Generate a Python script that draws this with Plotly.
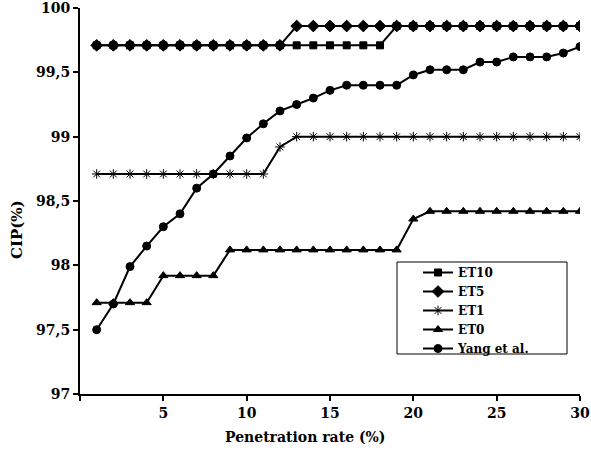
import plotly.graph_objects as go

x = list(range(1, 31))
et10 = [99.71] * 18 + [99.86] * 12
et5 = [99.71] * 12 + [99.86] * 18
et1 = [98.71] * 11 + [98.92] + [99.0] * 18
et0 = [97.71] * 4 + [97.92] * 4 + [98.12] * 11 + [98.36] + [98.42] * 10
yang = [97.50, 97.70, 97.99, 98.15, 98.30, 98.40, 98.60, 98.71, 98.85, 98.99,
        99.10, 99.20, 99.25, 99.30, 99.36, 99.40, 99.40, 99.40, 99.40, 99.48,
        99.52, 99.52, 99.52, 99.58, 99.58, 99.62, 99.62, 99.62, 99.65, 99.70]

series_names = ["ET10", "ET5", "ET1", "ET0", "Yang et al."]
y_tick_vals = [97, 97.5, 98, 98.5, 99, 99.5, 100]
y_tick_text = ["97", "97,5", "98", "98,5", "99", "99,5", "100"]
x_tick_vals = [0, 5, 10, 15, 20, 25, 30]
x_tick_text = ["", "5", "10", "15", "20", "25", "30"]
x_title = "Penetration rate (%)"
y_title = "CIP(%)"

FONT = "DejaVu Serif"

series = [et10, et5, et1, et0, yang]
symbols = ["square", "diamond", "asterisk-open", "triangle-up", "circle"]
sizes = [7, 9, 8, 8, 8]

fig = go.Figure()
for name, ys, sym, sz in zip(series_names, series, symbols, sizes):
    fig.add_trace(go.Scatter(
        x=x, y=ys, name=name, mode="lines+markers",
        line=dict(color="black", width=2),
        marker=dict(symbol=sym, size=sz, color="black",
                    line=dict(color="black", width=1)),
    ))

L, T, R, B = 80, 8, 11, 56
PW, PH = 591 - L - R, 450 - T - B


def px(xp):
    return (xp - L) / PW


def py(yp):
    return (450 - B - yp) / PH


fig.update_layout(
    template="none",
    width=591, height=450,
    margin=dict(l=L, r=R, t=T, b=B, autoexpand=False),
    paper_bgcolor="white", plot_bgcolor="white",
    font=dict(family=FONT, color="black"),
    showlegend=True,
    legend=dict(
        x=px(418), y=py(258), xanchor="left", yanchor="top",
        font=dict(family=FONT, size=12, weight="bold", color="black"),
        bgcolor="rgba(0,0,0,0)", borderwidth=0,
        tracegroupgap=0, itemwidth=30,
    ),
    shapes=[dict(type="rect", xref="paper", yref="paper",
                 x0=px(397), x1=px(567), y0=py(354), y1=py(262),
                 line=dict(color="black", width=1), fillcolor="rgba(0,0,0,0)")],
    annotations=[
        dict(text=x_title, xref="paper", yref="paper", x=px(305), y=py(437),
             xanchor="center", yanchor="middle", showarrow=False,
             font=dict(family=FONT, size=14, weight="bold")),
        dict(text=y_title, xref="paper", yref="paper", x=px(17), y=py(230),
             xanchor="center", yanchor="middle", showarrow=False, textangle=-90,
             font=dict(family=FONT, size=15, weight="bold")),
    ],
)

fig.update_xaxes(
    range=[0, 30.0001], tickvals=x_tick_vals, ticktext=x_tick_text,
    automargin=False, ticklabeloverflow="allow",
    showgrid=False, zeroline=False, showline=True, linecolor="black", linewidth=2,
    ticks="outside", ticklen=5, tickwidth=2, tickcolor="black",
    tickfont=dict(family=FONT, size=14, weight="bold"),
)
fig.update_yaxes(
    range=[97, 100.0001], tickvals=y_tick_vals, ticktext=y_tick_text,
    automargin=False, ticklabeloverflow="allow",
    showgrid=False, zeroline=False, showline=True, linecolor="black", linewidth=2,
    ticks="outside", ticklen=5, tickwidth=2, tickcolor="black",
    tickfont=dict(family=FONT, size=14, weight="bold"),
)

fig.write_html("out.html", config={"displayModeBar": False},
               post_script="document.body.style.margin='0';")
